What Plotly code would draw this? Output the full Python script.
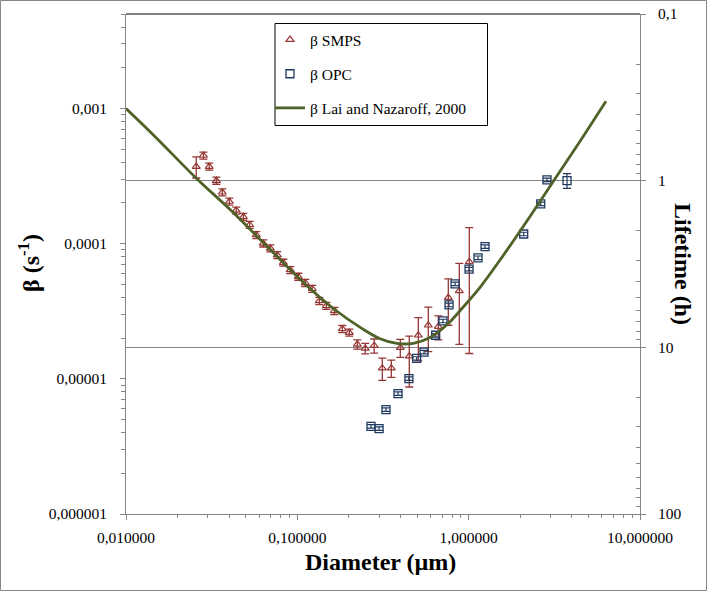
import plotly.graph_objects as go

# ---------------- data ----------------
smps_d = [0.0257, 0.0283, 0.0306, 0.0337, 0.0365, 0.0401, 0.0440, 0.0484, 0.0527, 0.0576,
          0.0633, 0.0696, 0.0764, 0.0828, 0.0909, 0.1013, 0.1112, 0.1221, 0.1343, 0.1476,
          0.1644, 0.1830, 0.2011, 0.2239, 0.2492, 0.2810, 0.3133, 0.3536, 0.3990, 0.4502,
          0.5083, 0.5812, 0.6650, 0.7606, 0.8818, 1.0086]
smps_beta = [3.72e-4, 4.49e-4, 3.72e-4, 2.93e-4, 2.40e-4, 2.05e-4, 1.76e-4, 1.58e-4, 1.38e-4, 1.16e-4,
             1.005e-4, 9.23e-5, 8.23e-5, 7.24e-5, 6.39e-5, 5.70e-5, 5.13e-5, 4.64e-5, 3.77e-5, 3.47e-5,
             3.18e-5, 2.34e-5, 2.20e-5, 1.80e-5, 1.68e-5, 1.76e-5, 1.20e-5, 1.20e-5, 1.70e-5, 1.47e-5,
             2.10e-5, 2.49e-5, 2.43e-5, 3.99e-5, 4.47e-5, 7.34e-5]
smps_err = [6.6e-5, 2.7e-5, 2.2e-5, 1.8e-5, 1.4e-5, 1.2e-5, 1.05e-5, 9.5e-6, 8.3e-6, 6.9e-6,
            6.0e-6, 5.5e-6, 4.9e-6, 4.3e-6, 3.8e-6, 3.4e-6, 3.1e-6, 2.8e-6, 2.3e-6, 2.1e-6,
            1.9e-6, 1.4e-6, 1.3e-6, 1.4e-6, 1.5e-6, 2.1e-6, 2.25e-6, 1.75e-6, 2.6e-6, 6.0e-6,
            7.4e-6, 9.0e-6, 4.9e-6, 1.5e-5, 2.67e-5, 5.8e-5]

opc_d = [0.269, 0.300, 0.329, 0.387, 0.448, 0.497, 0.549, 0.642, 0.708, 0.768,
         0.833, 1.005, 1.134, 1.246, 2.095, 2.634, 2.865, 3.750]
opc_beta = [4.45e-6, 4.28e-6, 5.92e-6, 7.78e-6, 1.005e-5, 1.415e-5, 1.576e-5, 2.10e-5, 2.68e-5, 3.52e-5,
            5.04e-5, 6.48e-5, 7.86e-5, 9.52e-5, 1.179e-4, 1.968e-4, 2.966e-4, 2.931e-4]
opc_err = [1.3e-7, 1.3e-7, 1.8e-7, 2.3e-7, 3.0e-7, 4.2e-7, 4.7e-7, 6.3e-7, 8.0e-7, 1.05e-6,
           1.5e-6, 1.9e-6, 2.4e-6, 2.9e-6, 3.5e-6, 5.9e-6, 8.9e-6, 3.7e-5]

model_d = [0.01, 0.0144, 0.0257, 0.0405, 0.0633, 0.1036, 0.1644, 0.2427, 0.3038, 0.380,
           0.475, 0.595, 0.744, 0.930, 1.165, 1.559, 2.280, 3.265, 4.568, 6.33]
model_beta = [1.0e-3, 6.40e-4, 3.05e-4, 1.79e-4, 1.02e-4, 5.46e-5, 3.27e-5, 2.32e-5, 1.98e-5, 1.83e-5,
              1.83e-5, 2.02e-5, 2.50e-5, 3.40e-5, 4.75e-5, 7.88e-5, 1.59e-4, 3.15e-4, 5.98e-4, 1.13e-3]

x_tickvals = [0.01, 0.1, 1, 10]
x_ticktext = ["0,010000", "0,100000", "1,000000", "10,000000"]
y_tickvals = [1e-6, 1e-5, 1e-4, 1e-3]
y_ticktext = ["0,000001", "0,00001", "0,0001", "0,001"]
y2_tickvals = [0.1, 1, 10, 100]
y2_ticktext = ["0,1", "1", "10", "100"]

series_names = ["β SMPS", "β OPC", "β Lai and Nazaroff, 2000"]

# ---------------- style ----------------
W, H = 707, 591
ML, MR, MT, MB = 126, 67, 14, 77
PW, PH = W - ML - MR, H - MT - MB
FONT = "Liberation Serif, Times New Roman, serif"
AXC = "#868686"
RED = "#953735"
BLUE = "#1F3A60"
GREEN = "#4F6228"


def px_x(px):
    return (px - ML) / PW


def px_y(py):
    return (H - MB - py) / PH


x_minor = [m * 10 ** k for k in (-2, -1, 0) for m in range(2, 10)]
y_minor = [m * 10 ** k for k in (-6, -5, -4, -3) for m in range(2, 10) if m * 10 ** k <= 0.0050001]
y2_minor = [m * 10 ** k for k in (-1, 0, 1) for m in range(2, 10)]

fig = go.Figure()

fig.add_trace(go.Scatter(
    x=smps_d, y=smps_beta, mode="markers", name=series_names[0],
    marker=dict(symbol="triangle-up-open", size=7, color=RED, line=dict(width=1.2, color=RED)),
    error_y=dict(type="data", array=smps_err, visible=True, color=RED, thickness=1.3, width=4),
    legendgroup="a",
))
fig.add_trace(go.Scatter(
    x=opc_d, y=opc_beta, mode="markers", name=series_names[1],
    marker=dict(symbol="square-open", size=8, color=BLUE, line=dict(width=1.3, color=BLUE)),
    error_y=dict(type="data", array=opc_err, visible=True, color=BLUE, thickness=1.2, width=4),
    legendgroup="b",
))
fig.add_trace(go.Scatter(
    x=model_d, y=model_beta, mode="lines", name=series_names[2],
    line=dict(color=GREEN, width=2.8, shape="spline", smoothing=1.0),
    legendgroup="c",
))
# invisible trace to carry the secondary (lifetime) axis
fig.add_trace(go.Scatter(
    x=[0.01], y=[1], yaxis="y2", mode="markers", marker=dict(opacity=0),
    showlegend=False, hoverinfo="skip",
))

tickfont = dict(family=FONT, size=15.5, color="black")

fig.update_layout(
    width=W, height=H, autosize=False,
    margin=dict(l=ML, r=MR, t=MT, b=MB, pad=0, autoexpand=False),
    paper_bgcolor="white", plot_bgcolor="white",
    font=dict(family=FONT, color="black"),
    showlegend=True,
    legend=dict(
        x=px_x(270), y=px_y(23), xanchor="left", yanchor="top",
        bgcolor="rgba(0,0,0,0)", borderwidth=0,
        font=dict(family=FONT, size=15.5, color="black"),
        tracegroupgap=11,
    ),
    xaxis=dict(
        type="log", range=[-2, 1], automargin=False,
        tickvals=x_tickvals, ticktext=x_ticktext, tickfont=tickfont,
        ticks="outside", ticklen=5, tickcolor=AXC, tickwidth=1,
        showline=True, linecolor=AXC, linewidth=1,
        showgrid=False, zeroline=False, mirror=False,
        minor=dict(tickvals=x_minor, ticks="outside", ticklen=3, tickcolor=AXC, showgrid=False),
        ticklabelstandoff=4,
    ),
    yaxis=dict(
        type="log", range=[-6, -2.30103], automargin=False,
        tickvals=y_tickvals, ticktext=y_ticktext, tickfont=tickfont,
        ticks="outside", ticklen=5, tickcolor=AXC, tickwidth=1,
        showline=True, linecolor=AXC, linewidth=1,
        showgrid=False, zeroline=False,
        minor=dict(tickvals=y_minor, ticks="outside", ticklen=4, tickcolor=AXC, showgrid=False),
        ticklabelstandoff=10,
    ),
    yaxis2=dict(
        type="log", range=[2, -1], overlaying="y", side="right", automargin=False,
        tickvals=y2_tickvals, ticktext=y2_ticktext, tickfont=tickfont,
        ticks="outside", ticklen=5, tickcolor=AXC, tickwidth=1,
        showline=True, linecolor=AXC, linewidth=1,
        showgrid=True, gridcolor=AXC, gridwidth=1, zeroline=False,
        minor=dict(tickvals=y2_minor, ticks="inside", ticklen=4, tickcolor=AXC, showgrid=False),
        ticklabelstandoff=9,
    ),
    annotations=[
        dict(text="<b>β (s<sup>-1</sup>)</b>", x=px_x(29), y=px_y(263), xref="paper", yref="paper",
             showarrow=False, textangle=-90, xanchor="center", yanchor="middle",
             font=dict(family=FONT, size=24, color="black")),
        dict(text="<b>Lifetime (h)</b>", x=px_x(683), y=px_y(264), xref="paper", yref="paper",
             showarrow=False, textangle=90, xanchor="center", yanchor="middle",
             font=dict(family=FONT, size=24, color="black")),
        dict(text="<b>Diameter (µm)</b>", x=px_x(380), y=px_y(562), xref="paper", yref="paper",
             showarrow=False, xanchor="center", yanchor="middle",
             font=dict(family=FONT, size=24, color="black")),
    ],
    shapes=[
        # outer chart border
        dict(type="rect", xref="paper", yref="paper",
             x0=px_x(0.5), x1=px_x(W - 0.5), y0=px_y(H - 0.5), y1=px_y(0.5),
             line=dict(color=AXC, width=1), fillcolor="rgba(0,0,0,0)", layer="below"),
        # top border line of plot area
        dict(type="line", xref="paper", yref="paper", x0=0, x1=1, y0=1, y1=1,
             line=dict(color="black", width=1), layer="above"),
        # legend box
        dict(type="rect", xref="paper", yref="paper",
             x0=px_x(275), x1=px_x(487.5), y0=px_y(125.5), y1=px_y(23.5),
             line=dict(color="black", width=1), fillcolor="white", layer="above"),
    ],
)

fig.write_html(
    "out.html",
    config={"displayModeBar": False},
    post_script="document.body.style.margin='0';document.body.style.overflow='hidden';",
)
